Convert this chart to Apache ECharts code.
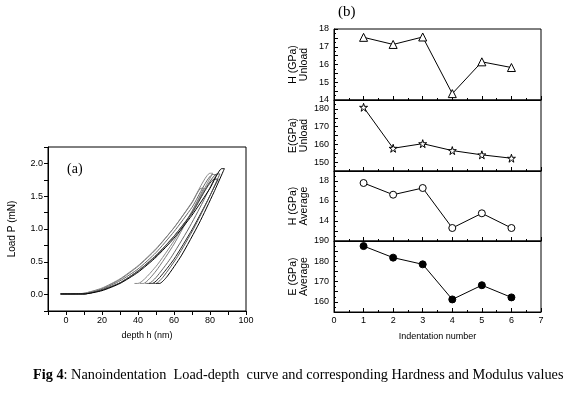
<!DOCTYPE html>
<html><head><meta charset="utf-8">
<script src="https://cdn.jsdelivr.net/npm/echarts@6/dist/echarts.min.js"></script>
<style>html,body{margin:0;padding:0;background:#fff}#c{width:568px;height:393px}</style>
</head><body><div id="c"></div>
<script>
// ---- Data ----
const indentation = [1, 2, 3, 4, 5, 6];
const hUnload = [17.53, 17.13, 17.55, 14.36, 16.15, 15.83];
const eUnload = [180.9, 157.8, 160.4, 156.5, 154.1, 152.2];
const hAverage = [17.8, 16.63, 17.3, 13.3, 14.77, 13.3];
const eAverage = [187.5, 181.8, 178.5, 161.2, 168.2, 162.2];

// load-depth curves: [depth (nm), load (mN)]
const curve1 = [[-3,0.01],[2,0.01],[10,0.02],[20,0.10],[30,0.24],[40,0.44],[50,0.70],[60,1.02],[70,1.41],[80,1.85],[81.5,1.85],[76,1.57],[70,1.27],[60,0.82],[50,0.43],[40,0.17],[38,0.17]];
const curve2 = [[-3,0.01],[3,0.01],[10,0.02],[20,0.09],[30,0.23],[40,0.43],[50,0.69],[60,1.02],[70,1.40],[75,1.62],[76.5,1.62],[70,1.27],[60,0.77],[50,0.36],[43,0.17],[41,0.17]];
const curve3 = [[-3,0.01],[4,0.01],[10,0.01],[20,0.08],[30,0.21],[40,0.39],[50,0.64],[60,0.96],[70,1.33],[81.5,1.83],[83.5,1.83],[76,1.41],[68,1.00],[58,0.55],[50,0.26],[46,0.17],[44,0.17]];
const curve4 = [[-3,0.01],[5,0.01],[10,0.01],[20,0.07],[30,0.18],[40,0.36],[50,0.59],[60,0.89],[70,1.24],[82.5,1.76],[84.5,1.76],[78,1.40],[70,0.99],[60,0.54],[52,0.26],[48,0.17],[46,0.17]];
const curve5 = [[-3,0.01],[5,0.01],[10,0.01],[20,0.07],[30,0.18],[40,0.36],[50,0.60],[60,0.89],[70,1.25],[84,1.84],[85.5,1.84],[79,1.45],[71,1.01],[62,0.58],[54,0.27],[50,0.17],[48,0.17]];
const curve6 = [[-3,0.01],[6,0.01],[10,0.01],[20,0.06],[30,0.17],[40,0.34],[50,0.57],[60,0.86],[70,1.21],[80,1.62],[86.5,1.92],[88,1.92],[82,1.55],[74,1.09],[64,0.59],[56,0.27],[52,0.17],[50,0.17]];

const curves = [curve1, curve2, curve3, curve4, curve5, curve6];
const curveColors = ['#8a8a8a', '#7a7a7a', '#666666', '#222222', '#555555', '#000000'];

// ---- Chart ----
const chart = echarts.init(document.getElementById('c'), null, {renderer: 'canvas'});
const F = 'Liberation Sans, Arial, sans-serif';
const lab = {color: '#000', fontFamily: F, fontSize: 9};
const axLine = {show: true, onZero: false, lineStyle: {color: '#000', width: 1}};

const grids = [
  {left: 48, top: 147, width: 198, height: 164, show: true, borderColor: '#000', borderWidth: 1},
  {left: 334, top: 29, width: 207, height: 71, show: true, borderColor: '#000', borderWidth: 1},
  {left: 334, top: 100, width: 207, height: 71, show: true, borderColor: '#000', borderWidth: 1},
  {left: 334, top: 171, width: 207, height: 70, show: true, borderColor: '#000', borderWidth: 1},
  {left: 334, top: 241, width: 207, height: 71, show: true, borderColor: '#000', borderWidth: 1}
];

function bx(i, showLabels) {
  return {
    type: 'value', gridIndex: i, min: 0, max: 7, interval: 1,
    axisLine: axLine, splitLine: {show: false},
    axisTick: {show: true, inside: true, length: 4, lineStyle: {color: '#000'}},
    minorTick: {show: true, splitNumber: 2, length: 2, lineStyle: {color: '#000'}},
    axisLabel: Object.assign({show: showLabels, margin: 4}, lab),
    name: showLabels ? 'Indentation number' : '',
    nameLocation: 'middle', nameGap: 20,
    nameTextStyle: {color: '#000', fontFamily: F, fontSize: 9}
  };
}
function by(i, min, max, interval, labels, name) {
  return {
    type: 'value', gridIndex: i, min: min, max: max, interval: interval,
    axisLine: axLine, splitLine: {show: false},
    axisTick: {show: true, inside: true, length: 4, lineStyle: {color: '#000'}},
    minorTick: {show: true, splitNumber: 2, length: 2, lineStyle: {color: '#000'}},
    axisLabel: Object.assign({
      margin: 5,
      formatter: v => labels.indexOf(Math.round(v * 100) / 100) >= 0 ? String(v) : ''
    }, lab),
    name: name, nameLocation: 'middle', nameGap: 24, nameRotate: 90,
    nameTextStyle: {color: '#000', fontFamily: F, fontSize: 10.5, lineHeight: 11}
  };
}

const starPath = 'path://M50,0 L61,35 L98,35 L68,57 L79,91 L50,70 L21,91 L32,57 L2,35 L39,35 Z';

const series = curves.map((c, k) => ({
  type: 'line', xAxisIndex: 0, yAxisIndex: 0, data: c, showSymbol: false,
  smooth: 0.2, lineStyle: {color: curveColors[k], width: 1}, silent: true, z: k + 2
}));

function pts(vals) { return indentation.map((n, i) => [n, vals[i]]); }
const bSeries = [
  {vals: hUnload, sym: 'triangle', size: 8, fill: '#fff'},
  {vals: eUnload, sym: starPath, size: 8, fill: '#fff'},
  {vals: hAverage, sym: 'circle', size: 7, fill: '#fff'},
  {vals: eAverage, sym: 'circle', size: 7, fill: '#000'}
];
bSeries.forEach((s, i) => {
  series.push({
    type: 'line', xAxisIndex: i + 1, yAxisIndex: i + 1, data: pts(s.vals),
    symbol: s.sym, symbolSize: s.size, showSymbol: true,
    lineStyle: {color: '#000', width: 1},
    itemStyle: {color: s.fill, borderColor: '#000', borderWidth: 1}
  });
});

const option = {
  backgroundColor: '#fff',
  animation: false,
  grid: grids,
  xAxis: [
    {
      type: 'value', gridIndex: 0, min: -10, max: 100, interval: 10,
      axisLine: axLine, splitLine: {show: false},
      axisTick: {show: true, length: 4, lineStyle: {color: '#000'}},
      axisLabel: Object.assign({margin: 5, formatter: v => (v >= 0 && v % 20 === 0) ? String(v) : ''}, lab),
      name: 'depth h (nm)', nameLocation: 'middle', nameGap: 20,
      nameTextStyle: {color: '#000', fontFamily: F, fontSize: 9}
    },
    bx(1, false), bx(2, false), bx(3, false), bx(4, true)
  ],
  yAxis: [
    {
      type: 'value', gridIndex: 0, min: -0.25, max: 2.25, interval: 0.25,
      axisLine: axLine, splitLine: {show: false},
      axisTick: {show: true, length: 4, lineStyle: {color: '#000'}},
      axisLabel: Object.assign({margin: 5, formatter: v => {
        const r = Math.round(v * 100) / 100;
        return (r >= 0 && Math.abs(r * 2 - Math.round(r * 2)) < 1e-6) ? r.toFixed(1) : '';
      }}, lab),
      name: 'Load P (mN)', nameLocation: 'middle', nameGap: 31, nameRotate: 90,
      nameTextStyle: {color: '#000', fontFamily: F, fontSize: 10}
    },
    by(1, 14, 18, 0.5, [14, 15, 16, 17, 18], 'H (GPa)\nUnload'),
    by(2, 145, 185, 5, [150, 160, 170, 180], 'E(GPa)\nUnload'),
    by(3, 12, 19, 1, [14, 16, 18], 'H (GPa)\nAverage'),
    by(4, 155, 190, 5, [160, 170, 180, 190], 'E (GPa)\nAverage')
  ],
  graphic: [
    {type: 'text', left: 67, top: 162, style: {text: '(a)', font: '14px "Liberation Serif", serif', fill: '#000'}},
    {type: 'text', left: 338, top: 5, style: {text: '(b)', font: '15px "Liberation Serif", serif', fill: '#000'}},
    {type: 'text', left: 33, top: 368, style: {
      rich: {
        b: {fontFamily: 'Liberation Serif', fontSize: 14.3, fontWeight: 'bold', fill: '#000'},
        n: {fontFamily: 'Liberation Serif', fontSize: 14.3, fill: '#000'}
      },
      text: '{b|Fig 4}{n|: Nanoindentation  Load-depth  curve and corresponding Hardness and Modulus values}'
    }}
  ],
  series: series
};
chart.setOption(option);
</script>
</body></html>
